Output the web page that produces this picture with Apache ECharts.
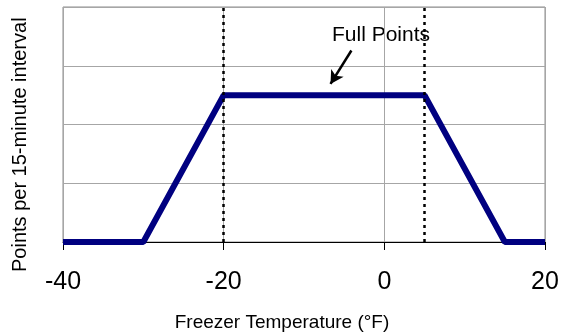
<!DOCTYPE html>
<html>
<head>
<meta charset="utf-8">
<script src="https://cdn.jsdelivr.net/npm/echarts@6/dist/echarts.min.js"></script>
<style>
  html, body { margin: 0; padding: 0; background: #fff; }
  #main { width: 563px; height: 336px; }
</style>
</head>
<body>
<div id="main"></div>
<script>
// temperature (°F) vs points per interval
const temps = [-40, -30, -20, 5, 15, 20];
const points = [0, 0, 2.5, 2.5, 0, 0];
const xTicks = [-40, -20, 0, 20];
const fullBounds = [-20, 5];
const arrowFrom = [-4.1, 3.26];
const arrowTo = [-6.7, 2.69];

const chart = echarts.init(document.getElementById('main'));
const font = 'Liberation Sans, Arial, sans-serif';

chart.setOption({
    animation: false,
    grid: {
        left: 63, right: 18, top: 7, bottom: 94,
        show: true, borderColor: '#8c8c8c', borderWidth: 1
    },
    xAxis: {
        type: 'value',
        min: xTicks[0], max: xTicks[xTicks.length - 1], interval: 20,
        axisLine: { onZero: false, lineStyle: { color: '#000', width: 1 } },
        axisTick: { show: true, length: 8, lineStyle: { color: '#000' } },
        axisLabel: { fontSize: 25, color: '#000', fontFamily: font, margin: 28 },
        splitLine: { show: true, lineStyle: { color: '#a6a6a6', width: 1 } }
    },
    yAxis: {
        type: 'value',
        min: 0, max: 4, interval: 1,
        axisLine: { show: false },
        axisTick: { show: false },
        axisLabel: { show: false },
        splitLine: { show: true, lineStyle: { color: '#a6a6a6', width: 1 } }
    },
    graphic: [
        {
            type: 'text', x: 282, y: 323,
            style: {
                text: 'Freezer Temperature (°F)', font: '19px ' + font, fill: '#000',
                textAlign: 'center', textVerticalAlign: 'middle'
            }
        },
        {
            type: 'text', x: 10, y: 272, rotation: Math.PI / 2,
            style: { text: 'Points per 15-minute interval', font: '20px ' + font, fill: '#000' }
        },
        {
            type: 'text', x: 332, y: 35,
            style: { text: 'Full Points', font: '21px ' + font, fill: '#000', textVerticalAlign: 'middle' }
        }
    ],
    series: [
        {
            type: 'line',
            data: temps.map((t, i) => [t, points[i]]),
            symbol: 'none',
            clip: false,
            lineStyle: { color: '#000080', width: 6 },
            z: 3
        },
        {
            type: 'line',
            data: [],
            markLine: {
                silent: true,
                symbol: 'none',
                label: { show: false },
                lineStyle: { color: '#000', width: 2.5, type: [3, 4] },
                data: fullBounds.map(v => ({ xAxis: v }))
            },
            z: 2
        },
        {
            type: 'line',
            data: [],
            markLine: {
                silent: true,
                symbol: ['none', 'arrow'],
                symbolSize: [11, 13],
                label: { show: false },
                lineStyle: { color: '#000', width: 2.5, type: 'solid' },
                data: [[{ coord: arrowFrom }, { coord: arrowTo }]]
            },
            z: 4
        }
    ]
});
</script>
</body>
</html>
